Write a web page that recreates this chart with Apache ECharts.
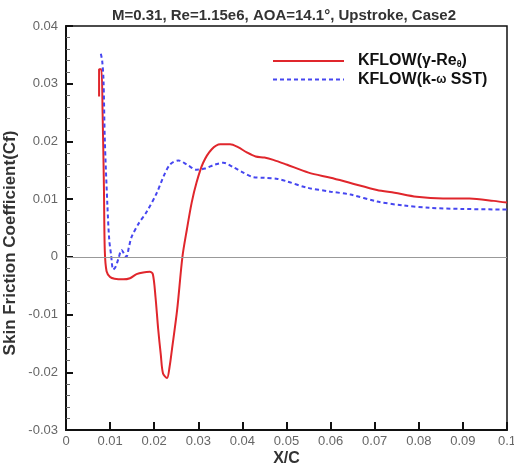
<!DOCTYPE html>
<html>
<head>
<meta charset="utf-8">
<script src="https://cdn.jsdelivr.net/npm/echarts@6/dist/echarts.min.js"></script>
<style>
  html, body { margin: 0; padding: 0; background: #fff; }
  #chart { width: 514px; height: 467px; }
</style>
</head>
<body>
<div id="chart"></div>
<script>
// KFLOW(gamma-Re_theta) curve
var gammaX = [0.0075, 0.0075, 0.0080, 0.0083, 0.0086, 0.0088, 0.0092, 0.0100, 0.0110, 0.0130, 0.0145,
  0.0160, 0.0175, 0.0190, 0.0197, 0.0203, 0.0209, 0.0215, 0.0220, 0.0229, 0.0235, 0.0240, 0.0252,
  0.0264, 0.0274, 0.0285, 0.0296, 0.0311, 0.0330, 0.0350, 0.0372, 0.0390, 0.0410, 0.0430, 0.0450,
  0.0470, 0.0500, 0.0550, 0.0600, 0.0645, 0.0705, 0.0745, 0.0795, 0.0855, 0.0915, 0.0970, 0.1000]
var gammaY = [0.0278, 0.0325, 0.0325, 0.0250, 0.0120, 0.0010, -0.0025, -0.0035, -0.0038, -0.0039, -0.0037,
  -0.0030, -0.0027, -0.0026, -0.0030, -0.0070, -0.0125, -0.0170, -0.0202, -0.0210, -0.0190, -0.0162, -0.0092,
  0.0000, 0.0047, 0.0094, 0.0129, 0.0163, 0.0186, 0.0195, 0.0195, 0.0190, 0.0181, 0.0174, 0.0172,
  0.0168, 0.0160, 0.0146, 0.0137, 0.0128, 0.0116, 0.0111, 0.0104, 0.0101, 0.0101, 0.0097, 0.0094]

// KFLOW(k-omega SST) curve
var sstX = [0.0079, 0.0082, 0.0085, 0.0088, 0.0094, 0.0098, 0.0102, 0.0107, 0.0112, 0.0119, 0.0126,
  0.0132, 0.0137, 0.0143, 0.0149, 0.0165, 0.0183, 0.0206, 0.0221, 0.0236, 0.0255, 0.0274, 0.0296,
  0.0315, 0.0338, 0.0357, 0.0380, 0.0402, 0.0425, 0.0450, 0.0480, 0.0500, 0.0546, 0.0600, 0.0645,
  0.0705, 0.0765, 0.0825, 0.0900, 0.1000]
var sstY = [0.0352, 0.0340, 0.0307, 0.0203, 0.0087, 0.0030, 0.0005, -0.0022, -0.0018, -0.0003, 0.0012,
  0.0005, 0.0000, 0.0018, 0.0035, 0.0058, 0.0078, 0.0111, 0.0139, 0.0160, 0.0167, 0.0160, 0.0151,
  0.0153, 0.0160, 0.0163, 0.0155, 0.0146, 0.0138, 0.0137, 0.0135, 0.0131, 0.0120, 0.0113, 0.0108,
  0.0096, 0.0089, 0.0085, 0.0083, 0.0082]

var seriesNames = ['KFLOW(γ-Reθ)', 'KFLOW(k-ω SST)']
var titleText = 'M=0.31, Re=1.15e6, AOA=14.1°, Upstroke, Case2'

function zip (xs, ys) {
  return xs.map(function (x, i) { return [x, ys[i]] })
}

var chart = echarts.init(document.getElementById('chart'))
var font = 'Liberation Sans, Arial, sans-serif'

var option = {
  animation: false,
  title: {
    text: titleText,
    left: 279,
    textAlign: 'center',
    top: 3,
    textStyle: { fontFamily: font, fontSize: 15, fontWeight: 'bold', color: '#333' }
  },
  grid: {
    left: 66,
    right: 7,
    top: 26,
    bottom: 37,
    outerBoundsMode: 'none',
    show: true,
    borderColor: '#111',
    borderWidth: 1.5
  },
  legend: {
    orient: 'vertical',
    left: 272,
    top: 53,
    padding: 0,
    itemWidth: 71,
    itemHeight: 10,
    itemGap: 2,
    data: seriesNames,
    itemStyle: { opacity: 0 },
    formatter: function (name) {
      if (name === seriesNames[0]) return 'KFLOW(γ-Re{sub|θ})'
      return 'KFLOW(k-{small|ω} SST)'
    },
    textStyle: {
      fontFamily: font,
      fontSize: 16,
      fontWeight: 'bold',
      color: '#111',
      padding: [0, 0, 0, 9],
      rich: {
        sub: { fontSize: 9, fontWeight: 'bold', color: '#111', padding: [8, 0, 0, 0], fontFamily: font },
        small: { fontSize: 12, fontWeight: 'bold', color: '#111', fontFamily: font }
      }
    }
  },
  xAxis: {
    type: 'value',
    min: 0,
    max: 0.1,
    interval: 0.01,
    name: 'X/C',
    nameLocation: 'middle',
    nameGap: 21,
    nameMoveOverlap: false,
    nameTextStyle: { fontFamily: font, fontSize: 16, fontWeight: 'bold', color: '#333' },
    axisLine: { show: true, onZero: false, lineStyle: { color: '#111', width: 2 } },
    axisTick: { show: true, inside: true, length: 8, lineStyle: { color: '#111', width: 2 } },
    axisLabel: {
      fontFamily: font, fontSize: 13, color: '#666', margin: 5,
      formatter: function (v) { return String(+v.toFixed(2)) }
    },
    splitLine: { show: false }
  },
  yAxis: {
    type: 'value',
    min: -0.03,
    max: 0.04,
    interval: 0.01,
    name: 'Skin Friction Coefficient(Cf)',
    nameLocation: 'middle',
    nameGap: 47,
    nameMoveOverlap: false,
    nameTextStyle: { fontFamily: font, fontSize: 17, fontWeight: 'bold', color: '#333', padding: [0, 30, 0, 0] },
    axisLine: { show: true, onZero: false, lineStyle: { color: '#111', width: 2 } },
    axisTick: { show: true, inside: true, length: 7, lineStyle: { color: '#111', width: 2 } },
    minorTick: { show: true, splitNumber: 5, length: 4, lineStyle: { color: '#666', width: 1 } },
    axisLabel: {
      fontFamily: font, fontSize: 13, color: '#666', margin: 8,
      formatter: function (v) { return String(+v.toFixed(2)) }
    },
    splitLine: { show: false }
  },
  series: [
    {
      name: seriesNames[0],
      type: 'line',
      symbol: 'none',
      smooth: 0.3,
      data: zip(gammaX, gammaY),
      lineStyle: { color: '#e0262c', width: 2 },
      itemStyle: { color: '#e0262c' },
      z: 3,
      markLine: {
        silent: true,
        symbol: 'none',
        label: { show: false },
        lineStyle: { color: '#999', width: 1, type: 'solid' },
        data: [{ yAxis: 0 }]
      }
    },
    {
      name: seriesNames[1],
      type: 'line',
      symbol: 'none',
      smooth: 0.3,
      data: zip(sstX, sstY),
      lineStyle: { color: '#4646f0', width: 2, type: [4, 3] },
      itemStyle: { color: '#4646f0' },
      z: 4
    }
  ]
}

chart.setOption(option)
</script>
</body>
</html>
